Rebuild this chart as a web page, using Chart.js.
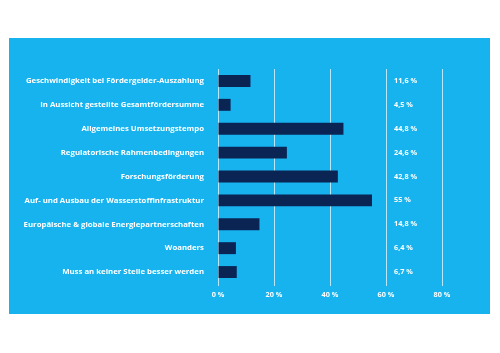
<!DOCTYPE html>
<html>
<head>
<meta charset="utf-8">
<script src="https://cdn.jsdelivr.net/npm/chart.js@4"></script>
<style>
  html, body { margin: 0; padding: 0; background: #fff; }
  #box { position: absolute; left: 9px; top: 38px; width: 481px; height: 276px; background: #16b3ef; }
</style>
</head>
<body>
<div id="box"><canvas id="bar-chart" width="481" height="276"></canvas></div>
<script>
var categories = [
  "Geschwindigkeit bei Fördergelder-Auszahlung",
  "In Aussicht gestellte Gesamtfördersumme",
  "Allgemeines Umsetzungstempo",
  "Regulatorische Rahmenbedingungen",
  "Forschungsförderung",
  "Auf- und Ausbau der Wasserstoffinfrastruktur",
  "Europäische & globale Energiepartnerschaften",
  "Woanders",
  "Muss an keiner Stelle besser werden"
];
var values = [11.6, 4.5, 44.8, 24.6, 42.8, 55, 14.8, 6.4, 6.7];
var valueLabels = ["11,6 %", "4,5 %", "44,8 %", "24,6 %", "42,8 %", "55 %", "14,8 %", "6,4 %", "6,7 %"];
var xTicks = [0, 20, 40, 60, 80];

var font = "'Open Sans', sans-serif";

// value column sits just right of the 60 % line
var valueColumn = {
  id: 'valueColumn',
  afterDatasetsDraw: function(chart) {
    var ctx = chart.ctx;
    var x = chart.scales.x.getPixelForValue(60) + 8;
    ctx.save();
    ctx.fillStyle = "#ffffff";
    ctx.font = "bold 7.3px " + font;
    ctx.textAlign = "left";
    ctx.textBaseline = "middle";
    valueLabels.forEach(function(t, i) {
      ctx.fillText(t, x, chart.scales.y.getPixelForValue(i));
    });
    ctx.restore();
  }
};

new Chart(document.getElementById("bar-chart"), {
  type: 'bar',
  data: {
    labels: categories,
    datasets: [{
      data: values,
      backgroundColor: "#0a2454",
      borderWidth: 0,
      categoryPercentage: 1,
      barPercentage: 0.5
    }]
  },
  options: {
    indexAxis: 'y',
    responsive: false,
    animation: false,
    layout: { padding: { left: 9, right: 48, top: 31, bottom: 0 } },
    plugins: { legend: { display: false }, tooltip: { enabled: false } },
    scales: {
      x: {
        min: 0,
        max: 80,
        afterBuildTicks: function(s) { s.ticks = xTicks.map(function(v) { return { value: v }; }); },
        afterFit: function(s) { s.height = 30; },
        grid: { color: "rgba(255,255,255,0.7)", lineWidth: 1, drawTicks: true, tickLength: 2 },
        border: { display: false },
        ticks: {
          color: "#ffffff",
          padding: 5,
          font: { family: font, size: 7.3, weight: 'bold' },
          callback: function(v) { return v + " %"; }
        }
      },
      y: {
        afterFit: function(s) { s.width = 200; },
        grid: { display: false, drawTicks: false },
        border: { display: false },
        ticks: {
          color: "#ffffff",
          padding: 14,
          font: { family: font, size: 7.8, weight: 'bold' }
        }
      }
    }
  },
  plugins: [valueColumn]
});
</script>
</body>
</html>
